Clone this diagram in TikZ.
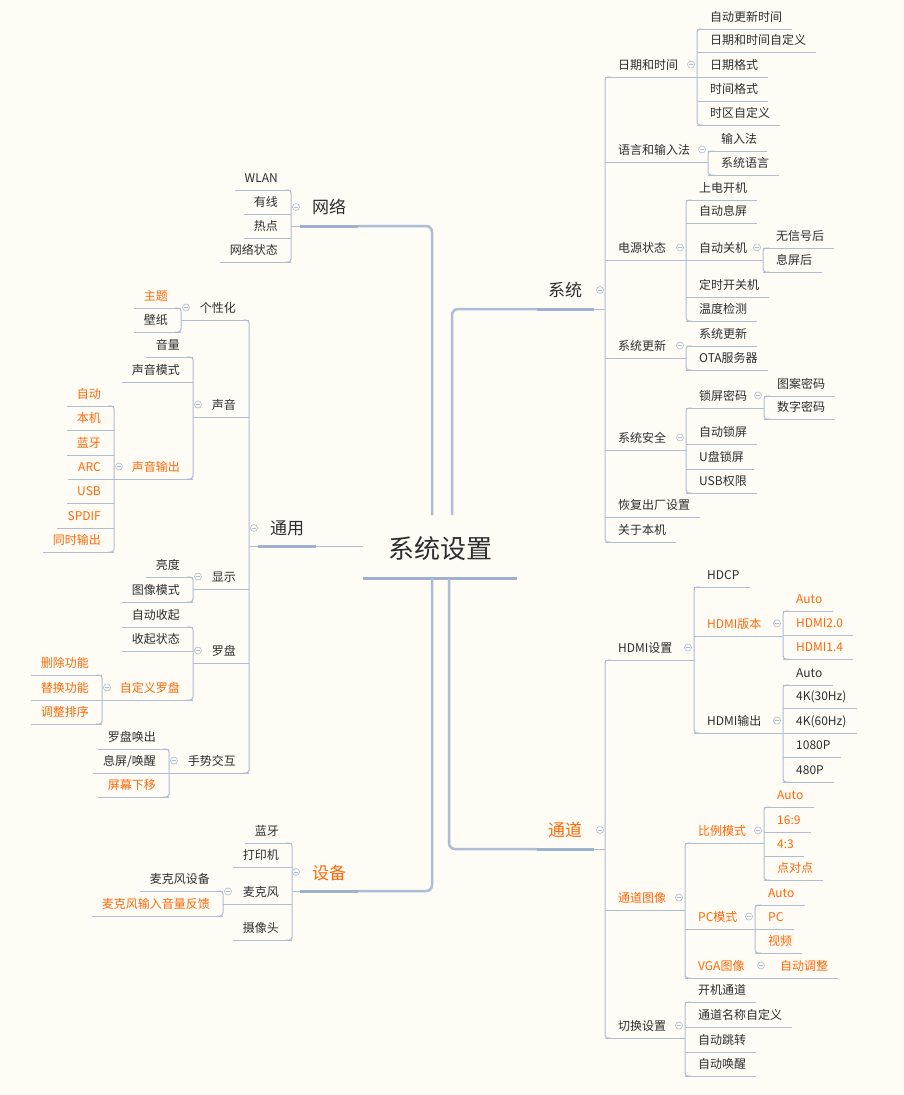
\documentclass[tikz,border=0pt]{standalone}
\usepackage{fontspec}
\setmainfont{Noto Sans CJK SC}
\definecolor{paper}{RGB}{254,252,245}
\definecolor{wire}{RGB}{172,189,213}
\definecolor{trunkc}{RGB}{158,178,206}
\definecolor{ink}{RGB}{45,45,45}
\definecolor{hot}{RGB}{255,104,8}
\begin{document}
\begin{tikzpicture}[x=1pt,y=-1pt]
\tikzset{
    leaf/.style={inner sep=0, font=\fontsize{12}{14}\selectfont},
    main/.style={inner sep=0, font=\fontsize{17}{20}\selectfont},
    rootnode/.style={inner sep=0, font=\fontsize{26}{30}\selectfont, text=ink},
    twig/.style={draw=wire, line width=1pt},
    stem/.style={draw=wire, line width=2.5pt, rounded corners=6pt},
    trunk/.style={draw=trunkc, line width=3pt},
    fold/.style={circle, draw=wire, fill=paper, line width=.6pt, minimum size=7pt, inner sep=0,
        path picture={\draw[wire, line width=.6pt] ([xshift=-1.8pt]path picture bounding box.center)
            -- ([xshift=1.8pt]path picture bounding box.center);}}}
% right side: colour, name, bus x, line y, text (, child bus)
\def\rkid#1#2#3#4#5{%
    \node[leaf, text=#1, anchor=base west] (#2) at (#3+13,#4-8) {#5};
    \draw[twig] (#3,#4) -- ([xshift=10pt,yshift=-8pt]#2.base east);}
\def\rpar#1#2#3#4#5#6{%
    \node[leaf, text=#1, anchor=base west] (#2) at (#3+13,#4-8) {#5};
    \draw[twig] (#3,#4) -- (#6,#4);
    \node[fold] (#2-f) at (#6-6,#4-12.5) {};}
\def\rbus#1#2#3{\draw[twig, rounded corners=3pt] (#1+6,#2) -- (#1,#2) -- (#1,#3) -- (#1+6,#3);}
% left side
\def\lkid#1#2#3#4#5{%
    \node[leaf, text=#1, anchor=base east] (#2) at (#3-13,#4-8) {#5};
    \draw[twig] (#3,#4) -- ([xshift=-10pt,yshift=-8pt]#2.base west);}
\def\lpar#1#2#3#4#5#6{%
    \node[leaf, text=#1, anchor=base east] (#2) at (#3-13,#4-8) {#5};
    \draw[twig] (#3,#4) -- (#6,#4);
    \node[fold] (#2-f) at (#6+5,#4-12.5) {};}
\def\lbus#1#2#3{\draw[twig, rounded corners=3pt] (#1-6,#2) -- (#1,#2) -- (#1,#3) -- (#1-6,#3);}

\useasboundingbox[fill=paper] (0,0) rectangle (904,1095);

% root
\node[rootnode, anchor=base] (root) at (440,558) {系统设置};
\draw[trunk] (363,578) -- (517,578);
\coordinate (up-l) at (432,515);
\coordinate (up-r) at (452,515);
\coordinate (dn-l) at (432,578);
\coordinate (dn-r) at (449,578);
\coordinate (side-l) at (363,546);

% main topics
\node[main, text=ink, anchor=base west] (sys) at (548,296) {系统};
\draw[stem] (up-r) |- (537,309);
\draw[trunk] (537,309) -- (594,309);
\draw[twig] (594,309) -- (605,309);
\node[fold] (sys-f) at (600,290) {};
\rbus{605}{77}{542}

\node[main, text=hot, anchor=base west] (chn) at (548,836) {通道};
\draw[stem] (dn-r) |- (537,849);
\draw[trunk] (537,849) -- (594,849);
\draw[twig] (594,849) -- (605,849);
\node[fold] (chn-f) at (600,830) {};
\rbus{605}{660}{1038}

\node[main, text=ink, anchor=base west] (net) at (312,213) {网络};
\draw[stem] (up-l) |- (358,226);
\draw[trunk] (300,226) -- (358,226);
\draw[twig] (291,226) -- (300,226);
\node[fold] (net-f) at (296,207) {};
\lbus{291}{190}{262}

\node[main, text=ink, anchor=base west] (gen) at (270,534) {通用};
\draw[twig] (side-l) -- (316,546);
\draw[trunk] (258,546) -- (316,546);
\draw[twig] (249,546) -- (258,546);
\node[fold] (gen-f) at (254,528) {};
\lbus{249}{320}{773}

\node[main, text=hot, anchor=base west] (dev) at (312,879) {设备};
\draw[stem] (dn-l) |- (358,891);
\draw[trunk] (300,891) -- (358,891);
\draw[twig] (292,891) -- (300,891);
\node[fold] (dev-f) at (296,872) {};
\lbus{292}{843}{940}

% 系统
\rpar{ink}{date}{605}{77}{日期和时间}{697}
\rbus{697}{29}{125}
\rkid{ink}{date1}{697}{29}{自动更新时间}
\rkid{ink}{date2}{697}{52}{日期和时间自定义}
\rkid{ink}{date3}{697}{77}{日期格式}
\rkid{ink}{date4}{697}{101}{时间格式}
\rkid{ink}{date5}{697}{125}{时区自定义}

\rpar{ink}{lang}{605}{162}{语言和输入法}{708}
\rbus{708}{151}{175}
\rkid{ink}{lang1}{708}{151}{输入法}
\rkid{ink}{lang2}{708}{175}{系统语言}

\rpar{ink}{pwr}{605}{260}{电源状态}{686}
\rbus{686}{200}{321}
\rkid{ink}{pwr1}{686}{200}{上电开机}
\rkid{ink}{pwr2}{686}{223}{自动息屏}
\rpar{ink}{pwr3}{686}{260}{自动关机}{763}
\rbus{763}{248}{272}
\rkid{ink}{off1}{763}{248}{无信号后}
\rkid{ink}{off2}{763}{272}{息屏后}
\rkid{ink}{pwr4}{686}{297}{定时开关机}
\rkid{ink}{pwr5}{686}{321}{温度检测}

\rpar{ink}{upd}{605}{358}{系统更新}{686}
\rbus{686}{346}{370}
\rkid{ink}{upd1}{686}{346}{系统更新}
\rkid{ink}{upd2}{686}{370}{OTA服务器}

\rpar{ink}{sec}{605}{450}{系统安全}{686}
\rbus{686}{408}{493}
\rpar{ink}{sec1}{686}{408}{锁屏密码}{764}
\rbus{764}{396}{419}
\rkid{ink}{pin1}{764}{396}{图案密码}
\rkid{ink}{pin2}{764}{419}{数字密码}
\rkid{ink}{sec2}{686}{444}{自动锁屏}
\rkid{ink}{sec3}{686}{469}{U盘锁屏}
\rkid{ink}{sec4}{686}{493}{USB权限}

\rkid{ink}{reset}{605}{517}{恢复出厂设置}
\rkid{ink}{about}{605}{542}{关于本机}

% 通道
\rpar{ink}{hdmi}{605}{660}{HDMI设置}{694}
\rbus{694}{587}{733}
\rkid{ink}{hdcp}{694}{587}{HDCP}
\rpar{hot}{ver}{694}{636}{HDMI版本}{783}
\rbus{783}{611}{659}
\rkid{hot}{ver1}{783}{611}{Auto}
\rkid{hot}{ver2}{783}{635}{HDMI2.0}
\rkid{hot}{ver3}{783}{659}{HDMI1.4}
\rpar{ink}{out}{694}{733}{HDMI输出}{783}
\rbus{783}{685}{782}
\rkid{ink}{out1}{783}{685}{Auto}
\rkid{ink}{out2}{783}{708}{4K(30Hz)}
\rkid{ink}{out3}{783}{733}{4K(60Hz)}
\rkid{ink}{out4}{783}{757}{1080P}
\rkid{ink}{out5}{783}{782}{480P}

\rpar{hot}{img}{605}{910}{通道图像}{685}
\rbus{685}{843}{978}
\rpar{hot}{ratio}{685}{843}{比例模式}{764}
\rbus{764}{807}{880}
\rkid{hot}{ratio1}{764}{807}{Auto}
\rkid{hot}{ratio2}{764}{832}{16:9}
\rkid{hot}{ratio3}{764}{856}{4:3}
\rkid{hot}{ratio4}{764}{880}{点对点}
\rpar{hot}{pc}{685}{929}{PC模式}{755}
\rbus{755}{905}{953}
\rkid{hot}{pc1}{755}{905}{Auto}
\rkid{hot}{pc2}{755}{929}{PC}
\rkid{hot}{pc3}{755}{953}{视频}
\rpar{hot}{vga}{685}{978}{VGA图像}{767}
\rkid{hot}{vga1}{767}{978}{自动调整}

\rpar{ink}{sw}{605}{1038}{切换设置}{685}
\rbus{685}{1002}{1076}
\rkid{ink}{sw1}{685}{1002}{开机通道}
\rkid{ink}{sw2}{685}{1027}{通道名称自定义}
\rkid{ink}{sw3}{685}{1052}{自动跳转}
\rkid{ink}{sw4}{685}{1076}{自动唤醒}

% 网络
\lkid{ink}{wlan}{291}{190}{WLAN}
\lkid{ink}{wired}{291}{214}{有线}
\lkid{ink}{spot}{291}{238}{热点}
\lkid{ink}{netst}{291}{262}{网络状态}

% 通用
\lpar{ink}{pers}{249}{320}{个性化}{181}
\lbus{181}{308}{332}
\lkid{hot}{pers1}{181}{308}{主题}
\lkid{ink}{pers2}{181}{332}{壁纸}

\lpar{ink}{snd}{249}{417}{声音}{193}
\lbus{193}{357}{479}
\lkid{ink}{snd1}{193}{357}{音量}
\lkid{ink}{snd2}{193}{382}{声音模式}
\lpar{hot}{sndo}{193}{479}{声音输出}{114}
\lbus{114}{406}{552}
\lkid{hot}{sndo1}{114}{406}{自动}
\lkid{hot}{sndo2}{114}{430}{本机}
\lkid{hot}{sndo3}{114}{455}{蓝牙}
\lkid{hot}{sndo4}{114}{479}{ARC}
\lkid{hot}{sndo5}{114}{503}{USB}
\lkid{hot}{sndo6}{114}{528}{SPDIF}
\lkid{hot}{sndo7}{114}{552}{同时输出}

\lpar{ink}{disp}{249}{589}{显示}{193}
\lbus{193}{577}{602}
\lkid{ink}{disp1}{193}{577}{亮度}
\lkid{ink}{disp2}{193}{602}{图像模式}

\lpar{ink}{comp}{249}{663}{罗盘}{193}
\lbus{193}{627}{700}
\lkid{ink}{comp1}{193}{627}{自动收起}
\lkid{ink}{comp2}{193}{651}{收起状态}
\lpar{hot}{comp3}{193}{700}{自定义罗盘}{102}
\lbus{102}{675}{724}
\lkid{hot}{cus1}{102}{675}{删除功能}
\lkid{hot}{cus2}{102}{700}{替换功能}
\lkid{hot}{cus3}{102}{724}{调整排序}

\lpar{ink}{gest}{249}{773}{手势交互}{169}
\lbus{169}{749}{797}
\lkid{ink}{gest1}{169}{749}{罗盘唤出}
\lkid{ink}{gest2}{169}{773}{息屏/唤醒}
\lkid{hot}{gest3}{169}{797}{屏幕下移}

% 设备
\lkid{ink}{bt}{292}{843}{蓝牙}
\lkid{ink}{prn}{292}{867}{打印机}
\lpar{ink}{mic}{292}{904}{麦克风}{223}
\lbus{223}{891}{916}
\lkid{ink}{mic1}{223}{891}{麦克风设备}
\lkid{hot}{mic2}{223}{916}{麦克风输入音量反馈}
\lkid{ink}{cam}{292}{940}{摄像头}
\end{tikzpicture}
\end{document}
